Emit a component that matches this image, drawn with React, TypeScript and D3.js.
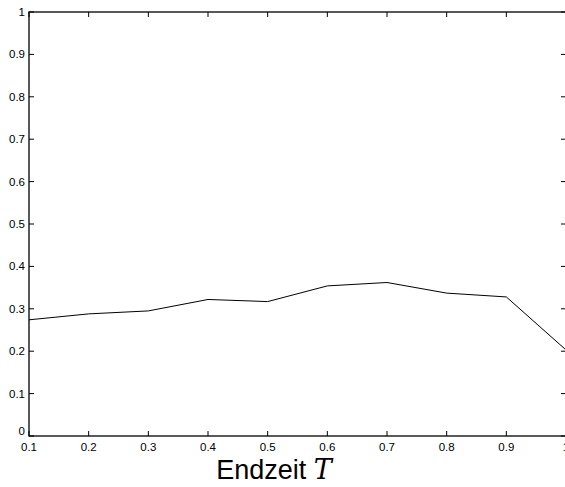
import React from "react";
import * as d3 from "d3";

const endTimes = [0.1, 0.2, 0.3, 0.4, 0.5, 0.6, 0.7, 0.8, 0.9, 1.0];
const values = [0.274, 0.288, 0.295, 0.322, 0.317, 0.354, 0.362, 0.337, 0.328, 0.203];
const xTicks = [0.1, 0.2, 0.3, 0.4, 0.5, 0.6, 0.7, 0.8, 0.9, 1.0];
const yTicks = [0, 0.1, 0.2, 0.3, 0.4, 0.5, 0.6, 0.7, 0.8, 0.9, 1];

export default function App() {
  const width = 565;
  const height = 487;
  const left = 29;
  const right = 566;
  const top = 12;
  const bottom = 436;

  const x = d3.scaleLinear().domain([0.1, 1.0]).range([left, right]);
  const y = d3.scaleLinear().domain([0, 1]).range([bottom, top]);

  const line = d3
    .line<number>()
    .x((_, i) => x(endTimes[i]))
    .y((d) => y(d));

  const tick = 5;
  const font = "Helvetica, Arial, 'Liberation Sans', sans-serif";

  return (
    <svg
      width={width}
      height={height}
      style={{ position: "absolute", left: 0, top: 0, background: "#fff" }}
    >
      <defs>
        <clipPath id="plot">
          <rect x={left} y={top} width={right - left} height={bottom - top} />
        </clipPath>
      </defs>
      <rect x={left} y={top} width={right - left} height={bottom - top} fill="none" stroke="#000" strokeWidth={1.3} />
      {xTicks.map((t) => (
        <g key={"x" + t}>
          <line x1={x(t)} x2={x(t)} y1={bottom} y2={bottom - tick} stroke="#000" />
          <line x1={x(t)} x2={x(t)} y1={top} y2={top + tick} stroke="#000" />
          <text x={x(t)} y={451} textAnchor="middle" fontSize={11.5} fontFamily={font}>
            {t === 1 ? "1" : t.toFixed(1)}
          </text>
        </g>
      ))}
      {yTicks.map((t) => (
        <g key={"y" + t}>
          <line x1={left} x2={left + tick} y1={y(t)} y2={y(t)} stroke="#000" />
          <line x1={right} x2={right - tick} y1={y(t)} y2={y(t)} stroke="#000" />
          <text
            x={left - 4}
            y={t === 0 ? y(t) - 1 : y(t) + 4}
            textAnchor="end"
            fontSize={11.5}
            fontFamily={font}
          >
            {t === 0 ? "0" : t === 1 ? "1" : t.toFixed(1)}
          </text>
        </g>
      ))}
      <path d={line(values) ?? ""} fill="none" stroke="#000" strokeWidth={1} clipPath="url(#plot)" />
      <text x={274} y={479} textAnchor="middle" fontSize={27} fontFamily={font}>
        Endzeit{" "}
        <tspan fontStyle="italic" fontFamily="'DejaVu Serif', 'Liberation Serif', serif">
          T
        </tspan>
      </text>
    </svg>
  );
}
